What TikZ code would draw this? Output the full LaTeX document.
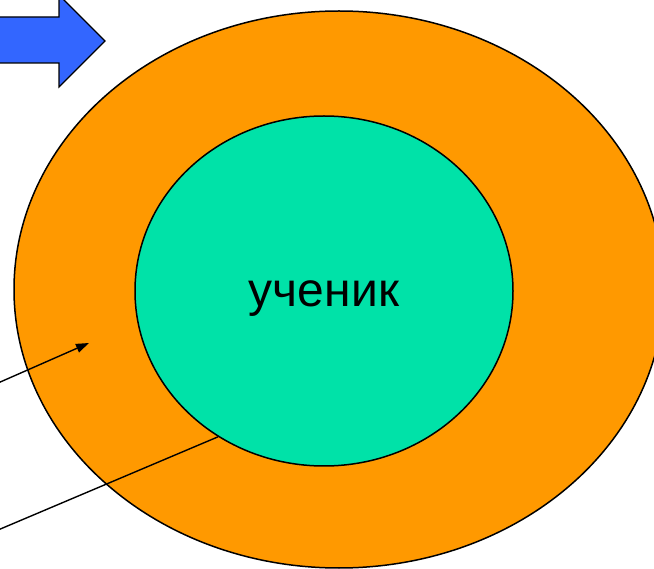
\documentclass[tikz,border=0pt]{standalone}
\usepackage{fontspec}
\setmainfont{Liberation Sans}
\usetikzlibrary{arrows.meta,shapes.geometric}

\definecolor{ringorange}{RGB}{255,153,0}
\definecolor{pupilgreen}{RGB}{0,226,168}
\definecolor{arrowblue}{RGB}{51,102,255}

\begin{document}
\begin{tikzpicture}[x=1pt,y=-1pt,
    ring/.style={ellipse,draw,line width=1.5pt,inner sep=0pt},
    pointer/.style={line width=1.4pt}]
        \clip (0,0) rectangle (654,569);
        \fill[white] (0,0) rectangle (654,569);

        % blue arrow at the top
        \draw[line width=1.2pt,fill=arrowblue] (-10,17) -- (59,17) -- (59,-5) -- (105,41)
            -- (59,87) -- (59,63) -- (-10,63) -- cycle;

        \node[ring,fill=ringorange,minimum width=650pt,minimum height=557pt] (family) at (339,289.5) {};
        \node[ring,fill=pupilgreen,minimum width=378pt,minimum height=350pt] (pupil) at (324,291) {};
        \node[anchor=base,font=\fontsize{48}{58}\selectfont] (word) at (324,307) {ученик};

        \coordinate (start a) at (-2,383);
        \coordinate (end a) at (89,343);
        \coordinate (start b) at (-2,530);

        \draw [pointer,-{Triangle[length=13pt,width=9pt]}] (start a) -- (end a);
        \draw [pointer] (start b) -- (pupil.234);
\end{tikzpicture}
\end{document}
